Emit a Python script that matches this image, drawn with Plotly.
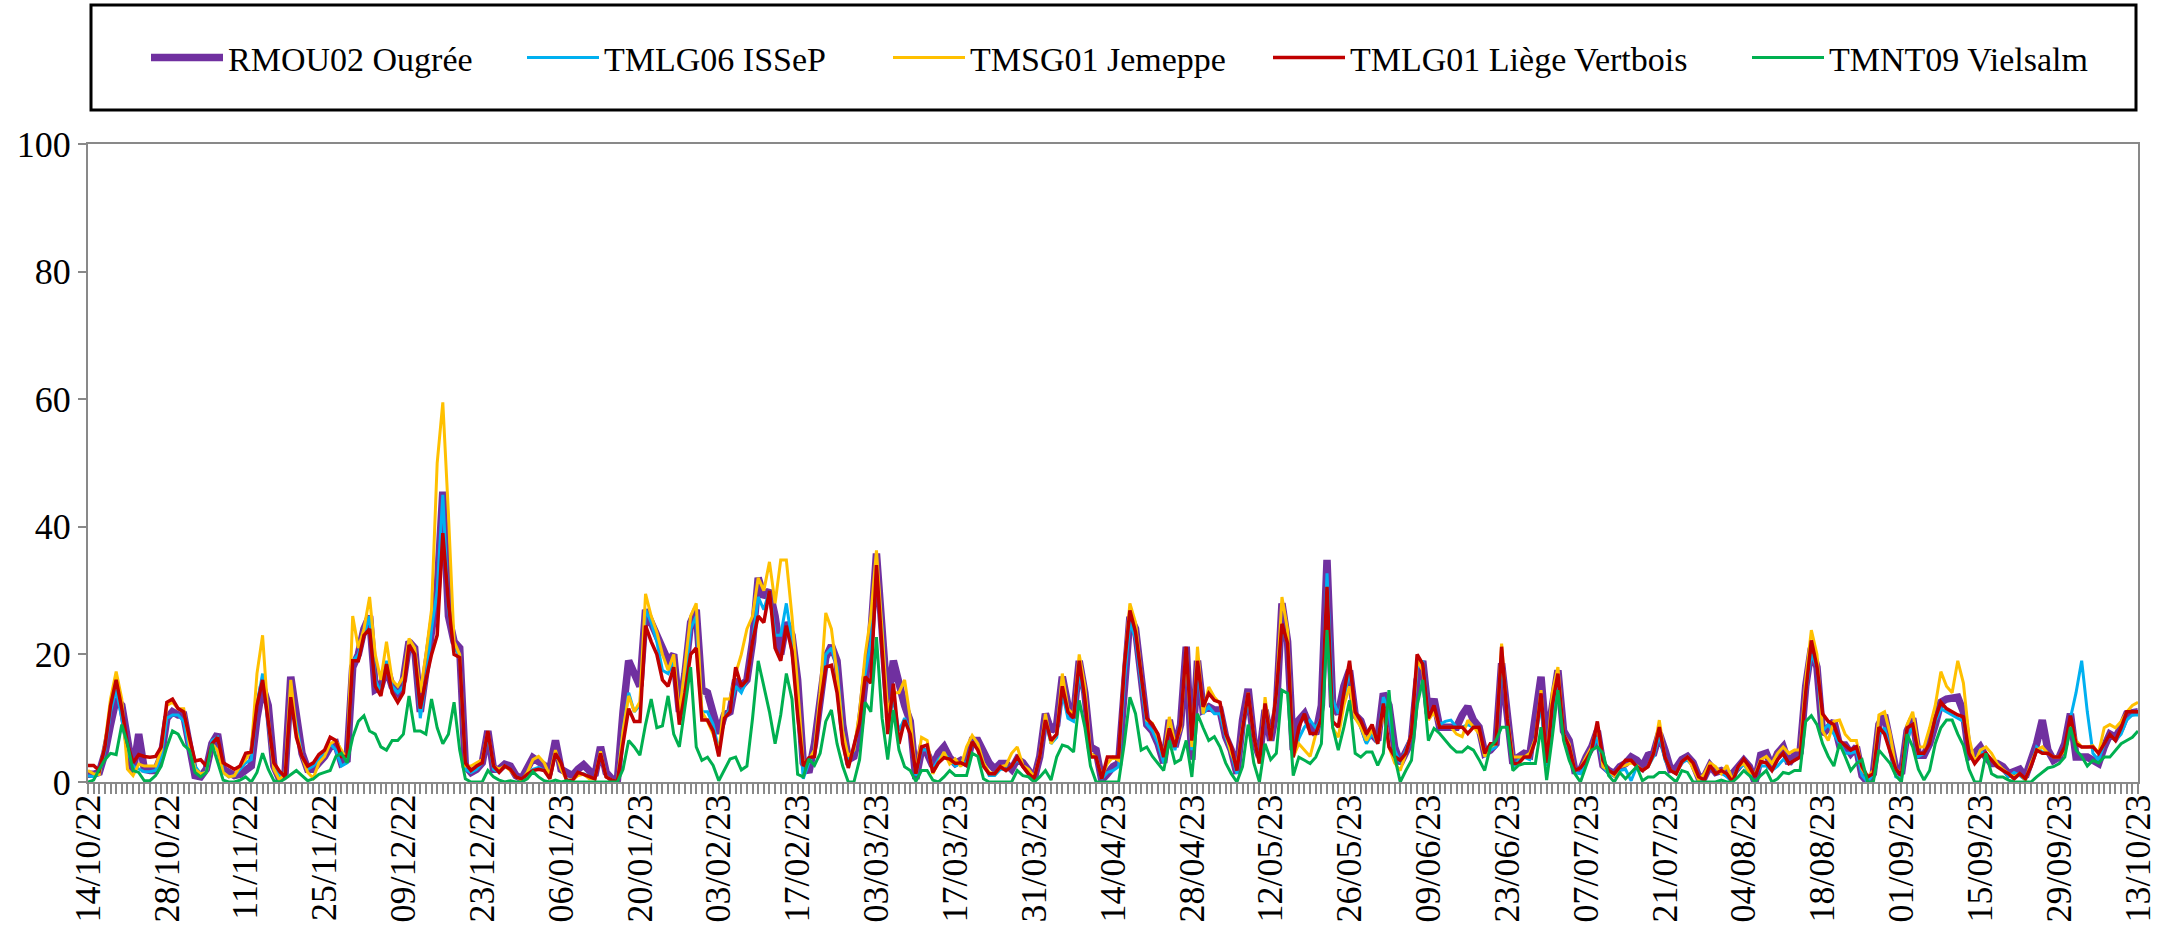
import plotly.graph_objects as go
import pandas as pd

# daily values, 14/10/22 -> 13/10/23
dates = pd.date_range("2022-10-14", "2023-10-13", freq="D")

rmou02_ougree = [
    1.2, 1.2, 1.5, 4.5, 9, 13, 12, 6, 1.5, 7.5, 2, 1.8, 1.8, 4, 10, 11, 10.5, 10.5, 5, 1,
    0.8, 2, 6, 7.5, 2, 1.5, 1, 1.2, 2, 2.5, 10, 15, 12, 2.5, 0.5, 1.5,
    16.5, 10, 4.5, 2, 2, 3, 4, 5.5, 6, 3, 3.5, 18, 20, 24, 26, 14.5, 15, 18, 15, 14,
    16, 22, 21, 11, 17, 25, 30, 45.5, 26, 22, 21, 2.5, 1.5, 2, 3, 8, 2,
    2, 2.8, 2.5, 1, 0.5, 2, 3.8, 3.2, 2.5, 2, 6.5, 2, 1.5, 1, 2, 2.7, 1.8, 1, 5.5, 1.5,
    0.5, 0.3, 11, 19, 17, 15, 27, 25, 23, 21, 19, 20, 11, 17, 25, 27,
    14.5, 14, 10.7, 7.6, 10.5, 11, 16, 15, 16, 22, 32, 29, 30, 26, 20, 25, 23, 16, 3, 1.5,
    6, 13, 19.5, 21.4, 19, 9, 3.5, 4, 8, 16, 23, 35.8, 25, 12, 19, 15,
    12, 9.5, 0.5, 5, 4.5, 2.5, 4.5, 5.5, 3.8, 2.9, 3.4, 2.9, 6.5, 6.5, 4.5, 3, 2, 2.9, 2.9, 2,
    3.6, 3, 1.8, 0.5, 4, 10.7, 8, 9, 16.5, 12, 10, 19, 14, 5.5, 5, 0.3, 1.3,
    2.4, 2.9, 15.5, 25.9, 24, 15.5, 9, 8, 6, 3, 9.7, 5.5, 9, 21.2, 3.5, 19, 11.3, 11.8, 11.3, 11.3,
    7.1, 5, 1.3, 9.7, 14.6, 6.5, 4, 11.3, 6.5, 11.3, 28, 22, 5, 9.7, 10.7, 8.6, 7.5,
    12, 34.8, 12, 10.7, 15, 17.5, 10.5, 9.6, 7, 7.5, 6.5, 13.9, 12, 5.5, 2.9, 4.5, 6.5, 16, 19, 10.7,
    13, 8.6, 8.6, 8.6, 8.6, 10.5, 11.8, 9.7, 8.6, 4.5, 5, 6, 18.6, 10.7, 2.9,
    3.9, 4.5, 4.2, 10, 16.5, 6, 12, 17.5, 8, 6.5, 1.8, 1.8, 3.9, 5.5, 8, 2.6, 1.8, 1.3, 2.4, 2.9,
    3.9, 3.4, 2.4, 4.2, 4.5, 7.6, 5, 2, 2.2, 3.5, 4, 3, 0.8, 0.8, 2.6, 1.5, 1.8,
    1.3, 1.3, 2.6, 3.4, 2.4, 0, 4.2, 4.5, 2.4, 4.5, 5.5, 2.9, 4.2, 4.7, 15, 21, 18, 7.5, 8.5, 9.5,
    5.8, 5.8, 4.5, 5.5, 1, 0, 1.3, 9, 10.5, 5.5, 2, 1.3, 8, 10, 4.2, 4.2, 6,
    9, 12.5, 13, 13.3, 13.3, 11, 4, 4.5, 5.5, 3.9, 2.9, 2.9, 2.4, 1.3, 1.5, 2, 0.8, 3.4, 6, 9.7,
    5, 3.4, 3.9, 6, 10.7, 3.9, 3.9, 3.9, 3.4, 2.9, 5.5, 7.5, 7, 8.5, 10.7, 11, 11,
]

tmlg06_issep = [
    1.0, 0.8, 1.3, 5, 11, 14.5, 10, 5, 2.5, 2, 1.6, 1.6, 1.8, 4, 10, 10.5, 10.5, 9.5, 5, 2.5,
    1.3, 1.5, 6.5, 7, 1.5, 0.8, 1, 2, 3, 3.5, 12, 17, 9, 2.5, 0.8, 1.5,
    13, 9, 4, 2, 2.5, 3.5, 4.5, 6, 5, 2.5, 3, 19, 20, 23, 26, 16, 14, 19, 15, 14,
    15, 21.5, 20, 10, 16, 24, 30, 45, 27, 21, 20, 2, 1.5, 2, 3, 7.5, 2,
    1.5, 2.5, 2, 0.8, 0.5, 1.3, 2, 2.3, 1.8, 0.8, 4.5, 2.5, 0.3, 0.3, 1.3, 1.3, 0.8, 0.5, 4.5, 0.8,
    0.3, 0.1, 8, 14, 11, 12, 27, 25, 22, 17.5, 17, 19, 10, 16, 24, 26,
    11, 11, 9, 5, 10, 11.5, 15, 14, 16, 22, 29, 27, 30, 23, 23, 28, 22, 12, 0.5, 3,
    5, 13, 20, 21, 18, 8, 3, 5, 10, 17, 22, 34, 24, 9, 13, 8,
    10, 8, 1, 5, 5, 2, 3.5, 4.5, 3.5, 2.5, 3, 3, 6, 5.5, 3, 1, 1, 2, 2, 2.5,
    3.5, 2.5, 1.3, 0.5, 4, 9.5, 6, 7, 14, 10, 9.5, 17, 13, 4, 4, 0.5, 1.5,
    1.8, 2.4, 15.5, 25, 22.5, 15.5, 9, 8, 6, 3, 9.2, 5, 9, 21, 5, 18, 10.7, 11.8, 10.7, 10.7,
    7.1, 4.5, 1.3, 7.6, 13.3, 7.1, 2.9, 11.8, 6.5, 13.3, 24.5, 21.7, 3.9, 6.8, 8.6, 9.7, 8.5,
    10, 32.7, 13, 10.7, 13, 17.5, 10.7, 8.6, 6, 7.6, 6, 13.3, 11, 5, 3, 5, 7.6, 18, 19, 10.7,
    11.5, 9, 9.5, 9.7, 8.6, 8.6, 9, 8.6, 8.6, 4, 5, 5.5, 19.1, 10.2, 2.4,
    3.4, 3.9, 3.5, 7, 12, 2.5, 11, 16.5, 7.5, 5.5, 1.5, 1.3, 3, 5, 7, 2.4, 1.3, 1, 1.8, 2,
    0.2, 2.4, 1.8, 2.4, 4, 7.5, 3.5, 1.8, 1.3, 3, 3.5, 2.5, 0.5, 0.5, 2.4, 1.5, 1.5,
    0.8, 0, 2, 2.8, 1.3, 1, 2.5, 2.5, 1.8, 2.5, 3.5, 3, 3.4, 3.9, 14, 20, 18, 8, 9, 7.5,
    6, 4.5, 4.5, 4.8, 1, 0, 1.3, 7.5, 8.5, 5, 0.8, 0.5, 6.5, 9, 4, 4.5, 6,
    9.5, 11.5, 11, 10.5, 10, 9.5, 5, 2.9, 5, 3.9, 3.5, 2.4, 2, 0.8, 1.5, 1, 0.3, 2.4, 5.5, 4.7,
    4.5, 3.9, 3.9, 5, 10, 14, 19, 11, 4.5, 3.4, 6, 7.5, 6.5, 7.5, 9.7, 10.5, 10.5,
]

tmsg01_jemeppe = [
    1.8, 1.3, 1.2, 6, 13, 17.3, 13, 2, 1, 2.8, 2.5, 2.5, 2.5, 5, 12, 12.5, 11.5, 11.5, 6, 2,
    1.3, 1.5, 6, 5, 1.5, 0.8, 1, 2.5, 3.5, 5, 17, 23, 10, 2, 0.3, 1.5,
    16, 8, 4, 1.5, 0.6, 3, 4, 6, 6.5, 5, 3.5, 26, 21, 24, 29, 20, 16, 22, 16, 15,
    16.5, 22.5, 21, 14, 20, 27, 50, 59.5, 42, 22, 20, 2.5, 2.5, 3, 3.5, 8, 2.5,
    2, 2.5, 1.8, 0.8, 0.3, 1.5, 3.5, 4, 3, 1, 5, 2, 0.3, 0.3, 1, 1.2, 0.5, 0.5, 4.8, 0.8,
    0.3, 0.1, 8, 13.5, 11, 12.6, 29.5, 26, 23.5, 20, 17.5, 20, 10.5, 18, 26, 28,
    11, 9.5, 7.5, 4.5, 13, 13, 17, 20, 24, 26, 32, 30, 34.5, 28, 34.8, 34.8, 26, 15, 3, 3.5,
    5, 14, 26.5, 24, 17, 8, 4, 5, 11, 20, 26, 36.3, 24, 11, 14, 14,
    16, 10, 1.3, 7, 6.5, 1.3, 3, 4.7, 2.8, 3.6, 2.4, 5.5, 7.3, 6, 3, 1.5, 1.3, 2.4, 2.6, 4.5,
    5.5, 2.6, 2, 0.8, 4, 10.7, 6, 7.5, 17, 11.5, 10.5, 20, 15, 4.5, 3.9, 0.8, 2.9,
    3.9, 3.4, 18, 28, 25, 17, 9.7, 9.2, 7, 4, 10.2, 6, 8.2, 21, 5.5, 21.2, 10.7, 14.9, 13.3, 12.3,
    7.6, 4.5, 2.4, 8.6, 14, 7.1, 2.9, 13.3, 6.5, 13.9, 29, 23.8, 3.9, 6, 5, 4, 7.5,
    10, 25.3, 8.5, 7, 12, 15, 10, 8.6, 6.5, 8.2, 6, 11.3, 5.5, 3, 1.8, 4.5, 7.6, 19, 17.5, 9.7,
    11, 8.6, 8.6, 8.6, 7.5, 7.1, 9.7, 8.6, 7.6, 4, 5.5, 6, 21.7, 10.2, 3.9,
    3.9, 3.9, 4.5, 6.8, 14.4, 3, 14, 18, 7.5, 6, 1.8, 2.2, 3.9, 5.5, 9, 2.4, 1.8, 1, 2.4, 2.6,
    3, 2.6, 1.8, 2.4, 4.5, 9.7, 3.9, 1.8, 1.3, 3.2, 3.9, 2.2, 0.3, 1.3, 3, 2.4, 1.3,
    2.6, 0.3, 2.4, 2.9, 1.5, 1.2, 3.5, 4, 2.9, 4.5, 5.5, 4.5, 5, 5, 16, 23.8, 20, 8, 6.5, 9.5,
    9.7, 7.5, 6.5, 6.5, 2, 0.8, 1.8, 10.5, 11, 7.5, 2, 1.3, 9, 11, 5.5, 5.5, 8.5,
    12, 17.3, 15, 14, 19, 15.5, 7, 3, 5, 5.5, 4.5, 2.9, 2, 1.3, 0.8, 1.3, 0.3, 2.9, 5, 5.5,
    4.5, 3.9, 3.9, 5, 9.7, 6.5, 5.5, 5.5, 5.7, 4.5, 8.5, 9, 8.5, 9.5, 11, 12, 12.5,
]

tmlg01_liege = [
    2.6, 2.6, 1.8, 5.5, 12, 16, 11.5, 6, 3, 4.3, 4, 3.9, 4, 5.5, 12.5, 13, 11.5, 11, 7, 3.3,
    3.5, 2.5, 6, 7, 3, 2.5, 2, 2.5, 4.5, 4.7, 12, 16, 9, 3, 1.7, 0.8,
    13.3, 7, 4, 2.5, 3, 4.3, 5, 7, 6.5, 4, 4, 19, 19, 23, 24, 15, 13.5, 18.5, 14, 12.5,
    14, 21.5, 20, 11.5, 16, 20, 23, 39, 28, 20, 19.5, 3, 1.8, 2.5, 3, 8, 2.5,
    1.5, 2.5, 2, 0.8, 0.5, 1.2, 1.8, 2, 1.8, 0.5, 4.5, 3, 0.2, 0.2, 1.5, 1.2, 0.8, 0.5, 4.5, 0.8,
    0.3, 0.1, 6, 11.5, 9.5, 9.5, 24.5, 22, 20, 16, 15, 18, 9, 14, 20, 21,
    9.7, 9.7, 8, 4, 10, 11, 18, 15, 16, 22, 26, 25, 30, 21, 19, 24.5, 20.5, 10.5, 2.5, 3.8,
    4, 12, 18, 18.3, 14, 6, 2.2, 5.5, 9.2, 16.5, 15.5, 34, 21, 7.5, 15.4, 6,
    9.7, 7.5, 1.3, 5.5, 5.8, 1.5, 3, 3.8, 3.6, 2.9, 3, 2.6, 6.3, 5, 2.5, 1.3, 1.3, 2.4, 1.8, 2.5,
    3.9, 2.4, 1.3, 0.5, 4, 9.7, 6.5, 7.5, 15, 11, 10, 19, 13, 3.9, 3.9, 0.5, 3.9,
    3.9, 3.9, 18, 26.9, 23.5, 17, 10, 9, 7.5, 3.9, 8.4, 5.5, 9, 21.2, 6.5, 19, 11.8, 13.9, 12.8, 12.5,
    7.6, 5.5, 1.8, 8.2, 14, 7.1, 2.9, 12.3, 6.5, 13.9, 24.8, 21.7, 3.9, 8.6, 10.7, 7.6, 7.6,
    10, 30.6, 9.5, 8.6, 14, 19, 11, 9.6, 7.5, 9, 6, 12.3, 5.5, 4, 3.4, 4.5, 7.6, 20, 18.5, 10,
    12, 8.6, 8.6, 8.6, 8.6, 8.6, 7.6, 8.6, 8.6, 4.5, 6, 6, 21.2, 10, 2.9,
    2.9, 3.9, 3.9, 6.5, 13.9, 3, 12, 17, 7.5, 5.5, 1.8, 2.2, 3.4, 5, 9.5, 3.4, 1.8, 1.3, 2.4, 3.4,
    3.4, 2.4, 1.8, 2.4, 4.5, 8.6, 3.9, 1.8, 1.3, 3.2, 3.9, 3, 0.8, 0.3, 2.6, 1.3, 1.8,
    1.3, 0, 2.4, 3.6, 2.4, 0.8, 3.2, 3, 1.8, 3.5, 4.5, 2.9, 3.4, 3.9, 14, 22.2, 18, 10.7, 9.5, 9,
    6.5, 5.8, 5, 5.5, 2.4, 0.8, 1.3, 8.6, 7.5, 4.7, 2, 1, 8.5, 9, 4.5, 4.5, 6,
    10, 12.5, 11.5, 11, 10.5, 10.2, 4.5, 2.9, 4, 4.5, 3.4, 2.4, 1.8, 1.3, 0.5, 1.3, 0.5, 2.4, 5, 4.5,
    4.5, 3.9, 3.9, 5.5, 10.4, 6, 5.5, 5.5, 5.5, 4.5, 6, 7.5, 6.5, 8.5, 11, 11, 11,
]

tmnt09_vielsalm = [
    0, 0.3, 2, 3.5, 4.5, 4.3, 9, 6, 1.8, 1.5, 0.2, 0.2, 1, 2.5, 5.5, 8, 7.5, 5.8, 5, 1.5,
    0.8, 1.5, 6, 3, 0.3, 0, 0, 0.3, 0.8, 0, 1.5, 4.5, 2, 0.2, 0, 0.5,
    1.2, 1.8, 1, 0.2, 0.5, 1.2, 1.5, 1.8, 4, 4.5, 3, 7, 9.5, 10.4, 8, 7.5, 5.5, 5, 6.5, 6.5,
    7.5, 13.5, 8, 8, 7.5, 13, 8.5, 6, 7.5, 12.5, 5, 0.5, 0, 0, 0, 1.8, 0.8,
    0.3, 0, 0.2, 0, 0, 0.5, 1.6, 0.8, 0.2, 0, 0.3, 0, 0.2, 0, 0, 0, 0, 0, 0, 0,
    0, 0, 2, 6.5, 5.5, 4.2, 9, 13, 8.5, 8.8, 13.5, 7.5, 5.5, 12, 18, 5.5,
    3.4, 3.9, 2.6, 0.2, 1.8, 3.6, 3.9, 1.9, 2.5, 10, 19, 15, 11, 6, 10.5, 17, 13, 1.2, 0.8, 3.6,
    2.6, 4.5, 9.5, 11.3, 6, 2.5, 0, 0, 3.5, 12.5, 11, 22.7, 10, 3.5, 11.3, 5,
    2.4, 1.8, 0.1, 1.8, 1.8, 0.3, 0, 0.8, 1.8, 1, 1, 1, 4.5, 4, 0.5, 0, 0, 0, 0, 0,
    1.8, 1, 0.8, 0, 0.8, 1.8, 0.3, 3.9, 5.8, 5.5, 4.7, 12.8, 8.6, 2.5, 0, 0, 0,
    0, 0, 6, 13.3, 10.7, 5, 5.5, 4, 2.9, 1.8, 6.5, 3, 3.5, 6.5, 0.8, 10.7, 8.5, 6.5, 7.1, 5.5,
    3, 1.3, 0, 2.4, 9, 3, 0, 6, 3.5, 4.5, 14.4, 13.9, 1, 3.9, 3.4, 2.9, 3.9,
    6, 23.8, 8.6, 5, 8.6, 12.8, 4.5, 3.9, 4.7, 4.7, 2.6, 4.5, 14.4, 4, 0, 1.8, 3.4, 12, 16, 6.5,
    8.4, 7.6, 6.5, 5.5, 4.7, 4.7, 5.5, 5, 3.5, 1.8, 5.5, 6.5, 8.6, 8.6, 1.8,
    2.6, 2.9, 2.9, 2.9, 8.6, 0.3, 7, 14.4, 6.5, 3.4, 1.3, 0, 2.5, 5, 5.5, 4.5, 1, 0, 1.5, 0.5,
    1.5, 2.4, 0.2, 0.8, 0.8, 1.5, 1.5, 0.8, 0, 1.8, 1.5, 0, 0, 0, 0, 0, 0.3,
    0, 0, 0.8, 1.8, 1, 0, 1, 1.8, 0, 0.5, 1.5, 1.3, 1.8, 1.8, 9.5, 10.4, 9, 6, 4, 2.5,
    6, 4, 1.8, 2.9, 3.5, 0, 0, 5, 4, 2.9, 1, 0, 7.5, 5.5, 2, 0.3, 1.8,
    6, 8.5, 9.7, 9.7, 7.5, 5.7, 2, 0, 0, 4.5, 1.3, 0.8, 0.8, 0.3, 0, 0, 0, 0, 0.8, 1.5,
    2.2, 2.4, 2.9, 3.9, 8.6, 5, 4, 2.5, 3.4, 3, 3.9, 3.9, 5, 6, 6.5, 7, 8,
]

names = ["RMOU02 Ougrée", "TMLG06 ISSeP", "TMSG01 Jemeppe",
         "TMLG01 Liège Vertbois", "TMNT09 Vielsalm"]
values = [rmou02_ougree, tmlg06_issep, tmsg01_jemeppe, tmlg01_liege, tmnt09_vielsalm]

colors = ["#7030A0", "#00B0F0", "#FFC000", "#C00000", "#00B050"]
widths = [7.5, 3, 3, 3.5, 3]
# left edge (px) of each legend entry; Excel spaces them by text length
legend_left = [146, 522, 888, 1268, 1747]

W, H = 2164, 929
FONT = "Liberation Serif"
GREY = "#898989"

for n, v in zip(names, values):
    if len(v) != len(dates):
        raise ValueError(f"{n}: {len(v)} values")

fig = go.Figure()
for k, (n, v) in enumerate(zip(names, values)):
    fig.add_trace(go.Scatter(x=dates, y=v, mode="lines", name=n,
                             line=dict(color=colors[k], width=widths[k]),
                             legend="legend" if k == 0 else f"legend{k + 1}"))

fig.update_layout(
    width=W, height=H,
    margin=dict(l=88, r=26, t=144, b=147, autoexpand=False),
    paper_bgcolor="white", plot_bgcolor="white",
    font=dict(family=FONT, color="black", size=36),
    showlegend=True,
)

# one legend per entry so each can sit where Excel put it
for k in range(len(names)):
    key = "legend" if k == 0 else f"legend{k + 1}"
    fig.update_layout(**{key: dict(
        x=legend_left[k] / W, xref="container", xanchor="left",
        y=1 - 58 / H, yref="container", yanchor="middle",
        font=dict(family=FONT, size=34, color="black"),
        bgcolor="rgba(0,0,0,0)", borderwidth=0, itemwidth=72,
    )})

# legend frame
fig.add_shape(type="rect", xref="paper", yref="paper",
              x0=3 / 2050, x1=2048 / 2050, y0=672 / 638, y1=777 / 638,
              line=dict(color="black", width=3), fillcolor="rgba(0,0,0,0)")

fig.update_xaxes(
    type="date", range=["2022-10-14", "2023-10-13"],
    tick0="2022-10-14", dtick=14 * 86400000, tickformat="%d/%m/%y",
    tickangle=-90, ticks="outside", ticklen=10, tickwidth=2, tickcolor=GREY,
    ticklabelstandoff=-14,
    minor=dict(dtick=86400000, tick0="2022-10-14", ticks="outside",
               ticklen=10, tickwidth=2, tickcolor=GREY, showgrid=False),
    showline=True, linecolor=GREY, linewidth=2, mirror=True,
    showgrid=False, zeroline=False,
    tickfont=dict(family=FONT, size=36, color="black"),
)
fig.update_yaxes(
    range=[0, 100], dtick=20, ticks="outside", ticklen=8, tickwidth=2,
    tickcolor=GREY, showline=True, linecolor=GREY, linewidth=2, mirror=True,
    showgrid=False, zeroline=False,
    tickfont=dict(family=FONT, size=36, color="black"),
)

# drop the default 8px body margin so the figure fills the window exactly
fig.write_html("out.html", config={"displayModeBar": False},
               post_script="document.body.style.margin = '0';")
